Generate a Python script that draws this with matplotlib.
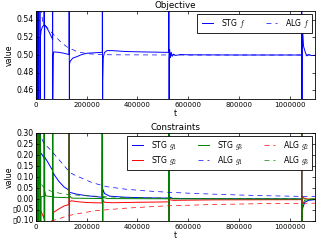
import matplotlib
matplotlib.use("Agg")
import matplotlib.pyplot as plt
from matplotlib.ticker import FuncFormatter

# ---------------- data ----------------
restarts = [2048, 4096, 8192, 16384, 32768, 65536, 131072, 262144, 524288, 1048576]

stg_f_t = [1000, 6000, 12000, 17000, 20000, 25000, 31000, 34000, 40000, 50000, 60000, 65000,
           66000, 67500, 70000, 90000, 110000, 130000,
           132000, 135000, 145000, 160000, 180000, 200000, 230000, 261000,
           263000, 265000, 270000, 280000, 300000, 350000, 420000, 523000,
           525500, 527000, 530000, 533000, 537000, 542000, 550000, 570000, 600000, 800000, 1047000,
           1049500, 1055000, 1062000, 1068000, 1075000, 1085000, 1100000]
stg_f_v = [0.62, 0.58, 0.56, 0.52, 0.528, 0.532, 0.534, 0.534, 0.532, 0.527, 0.521, 0.518,
           0.455, 0.50, 0.5035, 0.503, 0.502, 0.5005,
           0.490, 0.493, 0.4965, 0.498, 0.5005, 0.502, 0.5025, 0.503,
           0.470, 0.497, 0.503, 0.505, 0.505, 0.504, 0.5035, 0.503,
           0.495, 0.506, 0.497, 0.503, 0.4985, 0.501, 0.4995, 0.5005, 0.5002, 0.5, 0.5,
           0.54, 0.51, 0.503, 0.499, 0.5005, 0.4995, 0.4995]

alg_f_t = [1000, 10000, 20000, 27000, 33000, 50000, 71000, 100000, 123000, 163000, 202000,
           250000, 300000, 600000, 1100000]
alg_f_v = [0.70, 0.60, 0.55, 0.537, 0.535, 0.529, 0.5227, 0.514, 0.509, 0.5037, 0.5015,
           0.5005, 0.5002, 0.5, 0.5]

stg_g1_t = [1000, 10000, 16000, 18000, 25000, 32000, 34000, 45000, 55000, 65000,
            66500, 75000, 90000, 110000, 130000,
            132000, 140000, 160000, 200000, 260000,
            263000, 270000, 290000, 350000, 450000, 523000,
            526000, 540000, 700000, 900000, 1047000,
            1049000, 1052000, 1060000, 1075000, 1100000]
stg_g1_v = [0.60, 0.40, 0.32, 0.21, 0.20, 0.185, 0.19, 0.17, 0.15, 0.13,
            0.12, 0.105, 0.08, 0.055, 0.04,
            0.03, 0.028, 0.022, 0.015, 0.008,
            0.045, 0.025, 0.013, 0.008, 0.005, 0.004,
            0.01, 0.002, 0.001, 0.0005, 0.0,
            -0.08, -0.04, -0.015, -0.006, -0.003]

stg_g2_t = [1000, 10000, 17000, 25000, 32000, 34000, 45000, 65000,
            66500, 70000, 90000, 110000, 130000,
            132000, 140000, 160000, 200000, 260000,
            263000, 270000, 300000, 400000, 523000,
            526000, 540000, 700000, 1047000,
            1049000, 1055000, 1070000, 1100000]
stg_g2_v = [-0.50, -0.30, -0.05, -0.07, -0.09, -0.10, -0.11, -0.12,
            -0.065, -0.060, -0.045, -0.032, -0.025,
            -0.012, -0.008, -0.012, -0.016, -0.018,
            -0.005, -0.015, -0.017, -0.015, -0.013,
            -0.003, -0.006, -0.004, -0.003,
            0.012, 0.005, 0.0, -0.001]

stg_g3_t = [1000, 10000, 16000, 20000, 25000, 32000, 34000, 37000, 50000, 65000,
            66500, 70000, 100000, 130000,
            132000, 140000, 200000, 260000,
            263000, 280000, 523000,
            525000, 540000, 1047000,
            1049000, 1060000, 1100000]
stg_g3_v = [0.40, 0.15, 0.06, 0.01, 0.012, 0.01, 0.035, 0.015, 0.012, 0.01,
            0.03, 0.008, 0.007, 0.006,
            0.015, 0.004, 0.003, 0.002,
            0.008, 0.002, 0.001,
            0.004, 0.001, 0.0,
            -0.03, -0.005, 0.0]

alg_g1_t = [1000, 10000, 18000, 30000, 58000, 97000, 134000, 150000, 222000, 279000,
            350000, 420000, 515000, 650000, 778000, 900000, 1000000, 1100000]
alg_g1_v = [0.60, 0.34, 0.285, 0.255, 0.222, 0.17, 0.12, 0.11, 0.074, 0.056,
            0.045, 0.038, 0.031, 0.024, 0.019, 0.015, 0.013, 0.011]

alg_g2_t = [1000, 20000, 55000, 84000, 121000, 150000, 229000, 350000, 515000, 700000,
            900000, 1100000]
alg_g2_v = [-0.60, -0.25, -0.10, -0.093, -0.077, -0.07, -0.054, -0.042, -0.031, -0.025,
            -0.021, -0.019]

alg_g3_t = [1000, 12000, 20000, 31000, 58000, 90000, 124000, 170000, 229000, 300000,
            400000, 520000, 700000, 900000, 1100000]
alg_g3_v = [0.35, 0.085, 0.068, 0.052, 0.036, 0.027, 0.021, 0.017, 0.013, 0.009,
            0.006, 0.004, 0.002, 0.001, 0.0005]

x_ticks = [0, 200000, 400000, 600000, 800000, 1000000]
top_yticks = [0.46, 0.48, 0.50, 0.52, 0.54]
bot_yticks = [-0.10, -0.05, 0.00, 0.05, 0.10, 0.15, 0.20, 0.25, 0.30]


def with_spikes(t, v, rs, hi, lo):
    ot, ov = [], []
    ri = 0
    for ti, vi in zip(t, v):
        while ri < len(rs) and rs[ri] < ti:
            ot += [rs[ri], rs[ri]]
            ov += [hi, lo]
            ri += 1
        ot.append(ti)
        ov.append(vi)
    while ri < len(rs):
        ot += [rs[ri], rs[ri]]
        ov += [hi, lo]
        ri += 1
    return ot, ov


# ---------------- style ----------------
plt.style.use("classic")
plt.rcParams.update({
    "figure.facecolor": "white",
    "savefig.facecolor": "white",
    "font.family": ["DejaVu Sans"],
    "font.size": 5.6,
    "xtick.labelsize": 5,
    "ytick.labelsize": 5.6,
    "xtick.major.size": 2.5,
    "ytick.major.size": 2.5,
    "xtick.major.pad": 2,
    "ytick.major.pad": 2,
    "axes.linewidth": 0.6,
    "lines.linewidth": 0.7,
    "legend.fontsize": 5.6,
})

fig = plt.figure(figsize=(3.25, 2.45), dpi=100)
ax1 = fig.add_axes([0.111, 0.596, 0.858, 0.359])
ax2 = fig.add_axes([0.111, 0.098, 0.858, 0.359])

dash = (0, (3.5, 3.0))

xfmt = FuncFormatter(lambda x, p: "%d" % int(round(x)))
yfmt = FuncFormatter(lambda y, p: ("%.2f" % y).replace("-", "\u25af"))

leg_kw = dict(handlelength=2.0, borderpad=0.35, columnspacing=2.4,
              handletextpad=0.7, borderaxespad=0.4, labelspacing=0.3)

# top
t, v = with_spikes(stg_f_t, stg_f_v, restarts, 1.0, 0.0)
ax1.plot(t, v, color="b", lw=0.7, label="STG $f$")
ax1.plot(alg_f_t, alg_f_v, color="b", lw=0.5, linestyle=dash, label="ALG $f$")
ax1.set_xlim(0, 1100000)
ax1.set_ylim(0.45, 0.55)
ax1.set_xticks(x_ticks)
ax1.set_yticks(top_yticks)
ax1.xaxis.set_major_formatter(xfmt)
ax1.yaxis.set_major_formatter(FuncFormatter(lambda y, p: "%.2f" % y))
ax1.set_title("Objective", fontsize=6.3, pad=2)
ax1.set_xlabel("t", fontsize=5.6, labelpad=1)
ax1.set_ylabel("value", fontsize=5.6)
ax1.yaxis.set_label_coords(-0.079, 0.5)
leg1 = ax1.legend(loc="upper right", ncol=2, **leg_kw)
leg1.get_frame().set_linewidth(0.6)

# bottom
for (tt, vv, c, lab) in [(stg_g1_t, stg_g1_v, "b", "STG $g_1$"),
                         (stg_g2_t, stg_g2_v, "r", "STG $g_2$"),
                         (stg_g3_t, stg_g3_v, "g", "STG $g_3$")]:
    t, v = with_spikes(tt, vv, restarts, 1.0, -1.0)
    ax2.plot(t, v, color=c, lw=0.7, label=lab)
for (tt, vv, c, lab) in [(alg_g1_t, alg_g1_v, "b", "ALG $g_1$"),
                         (alg_g2_t, alg_g2_v, "r", "ALG $g_2$"),
                         (alg_g3_t, alg_g3_v, "g", "ALG $g_3$")]:
    ax2.plot(tt, vv, color=c, lw=0.5, linestyle=dash, label=lab)
ax2.set_xlim(0, 1100000)
ax2.set_ylim(-0.10, 0.30)
ax2.set_xticks(x_ticks)
ax2.set_yticks(bot_yticks)
ax2.xaxis.set_major_formatter(xfmt)
ax2.yaxis.set_major_formatter(yfmt)
ax2.set_title("Constraints", fontsize=6.3, pad=2)
ax2.set_xlabel("t", fontsize=5.6, labelpad=1)
ax2.set_ylabel("value", fontsize=5.6)
ax2.yaxis.set_label_coords(-0.079, 0.5)
leg2 = ax2.legend(loc="upper right", ncol=3, **leg_kw)
leg2.get_frame().set_linewidth(0.6)

fig.savefig("out.png", dpi=100)
